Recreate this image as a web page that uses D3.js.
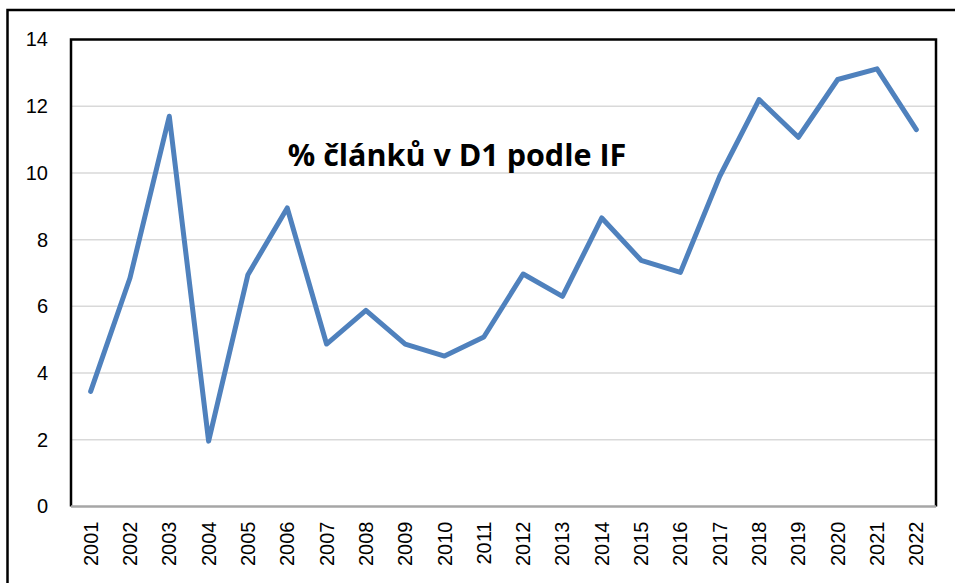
<!DOCTYPE html>
<html>
<head>
<meta charset="utf-8">
<script src="https://cdn.jsdelivr.net/npm/d3@7"></script>
<style>
  body { margin: 0; background: #fff; }
  svg { display: block; }
</style>
</head>
<body>
<div id="chart"></div>
<script>
// Data
const years = ['2001','2002','2003','2004','2005','2006','2007','2008','2009','2010','2011',
               '2012','2013','2014','2015','2016','2017','2018','2019','2020','2021','2022'];
const shares = [3.45, 6.85, 11.7, 1.96, 6.95, 8.95, 4.87, 5.88, 4.87, 4.51, 5.08,
                6.97, 6.3, 8.65, 7.38, 7.02, 9.9, 12.2, 11.07, 12.8, 13.12, 11.3];
const yTicks = [0, 2, 4, 6, 8, 10, 12, 14];
const title = '% článků v D1 podle IF';

const width = 955, height = 583;
const margin = {top: 39.5, right: 19, bottom: 76.5, left: 71};
const innerW = width - margin.left - margin.right;
const innerH = height - margin.top - margin.bottom;

const svg = d3.select('#chart').append('svg')
    .attr('width', width)
    .attr('height', height);

// outer chart frame (right / bottom edges fall outside the picture)
svg.append('rect')
    .attr('x', 7.5).attr('y', 10)
    .attr('width', 960).attr('height', 600)
    .attr('fill', 'none')
    .attr('stroke', '#000')
    .attr('stroke-width', 2.5);

const g = svg.append('g')
    .attr('transform', `translate(${margin.left},${margin.top})`);

const x = d3.scaleBand().domain(years).range([0, innerW]);
const y = d3.scaleLinear().domain([0, 14]).range([innerH, 0]);

// gridlines
g.selectAll('.grid')
    .data(yTicks.filter(d => d > 0 && d < 14))
    .enter().append('line')
    .attr('x1', 0).attr('x2', innerW)
    .attr('y1', d => y(d)).attr('y2', d => y(d))
    .attr('stroke', '#d9d9d9')
    .attr('stroke-width', 1.5);

// y axis labels
const yAxis = d3.axisLeft(y).tickValues(yTicks).tickSize(0).tickPadding(23);
g.append('g').call(yAxis)
    .attr('font-size', null)
    .call(s => s.select('.domain').remove())
    .selectAll('text')
    .style('font-family', '"Liberation Sans", Arial, sans-serif')
    .style('font-size', '20px')
    .attr('fill', '#000');

// x axis labels, rotated
const xAxis = d3.axisBottom(x).tickSize(0);
g.append('g')
    .attr('transform', `translate(0,${innerH})`)
    .call(xAxis)
    .attr('font-size', null)
    .call(s => s.select('.domain').remove())
    .selectAll('text')
    .attr('transform', 'rotate(-90)')
    .attr('x', -15)
    .attr('y', 0)
    .attr('dy', '0.35em')
    .style('text-anchor', 'end')
    .style('font-family', '"Liberation Sans", Arial, sans-serif')
    .style('font-size', '20px')
    .attr('fill', '#000');

// plot frame: black left/top/right, grey baseline
g.append('path')
    .attr('d', `M0,${innerH}V0H${innerW}V${innerH}`)
    .attr('fill', 'none')
    .attr('stroke', '#000')
    .attr('stroke-width', 2.5);
g.append('line')
    .attr('x1', 0).attr('x2', innerW)
    .attr('y1', innerH).attr('y2', innerH)
    .attr('stroke', '#a6a6a6')
    .attr('stroke-width', 2.5);

// the series line
const line = d3.line()
    .x((d, i) => x(years[i]) + x.bandwidth() / 2)
    .y(d => y(d));

g.append('path')
    .datum(shares)
    .attr('d', line)
    .attr('fill', 'none')
    .attr('stroke', '#4f81bd')
    .attr('stroke-width', 5)
    .attr('stroke-linejoin', 'round')
    .attr('stroke-linecap', 'round');

// title inside the plot
svg.append('text')
    .attr('x', 457)
    .attr('y', 166)
    .attr('text-anchor', 'middle')
    .style('font-family', '"Open Sans", "Noto Sans", sans-serif')
    .style('font-weight', 'bold')
    .style('font-size', '30.5px')
    .attr('fill', '#000')
    .text(title);
</script>
</body>
</html>
